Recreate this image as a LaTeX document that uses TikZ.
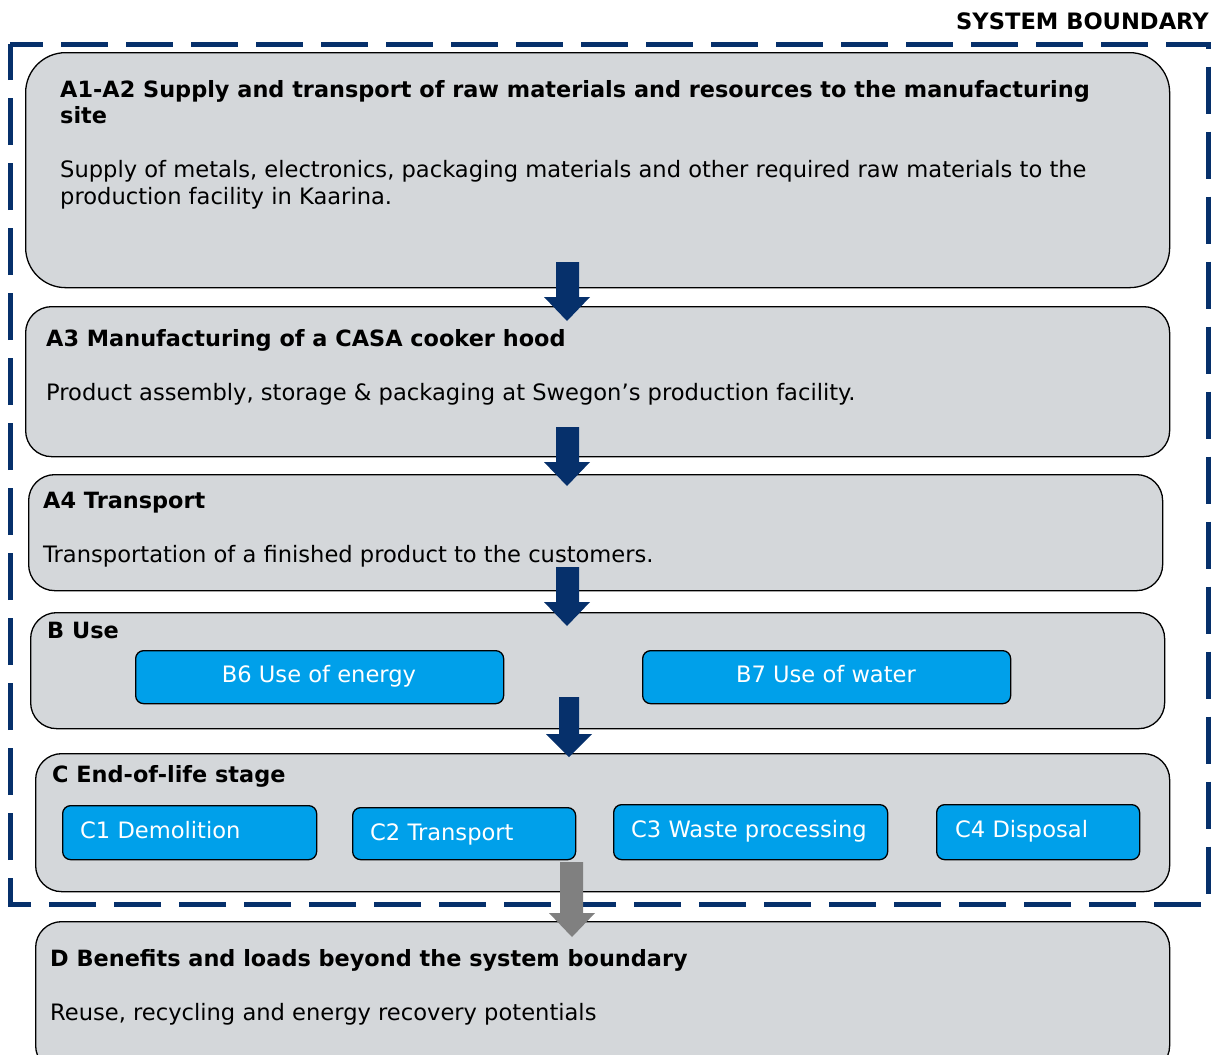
\documentclass[tikz,border=0pt]{standalone}
\usepackage{fontspec}
\setmainfont{DejaVu Sans}
\definecolor{boxgray}{HTML}{D4D7DA}
\definecolor{navy}{HTML}{06306B}
\definecolor{skyblue}{HTML}{00A0EA}
\definecolor{arrowgray}{HTML}{808080}
\tikzset{
  stage/.style={draw=black, line width=1.3pt, fill=boxgray, rounded corners=26pt, anchor=north west, inner sep=0pt},
  sub/.style={draw=black, line width=1.3pt, fill=skyblue, rounded corners=8pt, anchor=north west, inner sep=0pt},
  title/.style={anchor=base west, inner sep=0pt, font=\fontsize{22.4}{27}\selectfont\bfseries},
  body/.style={anchor=base west, inner sep=0pt, font=\fontsize{22.6}{27}\selectfont},
  subtext/.style={anchor=base west, inner sep=0pt, text=white, font=\fontsize{22.6}{27}\selectfont},
  subtextc/.style={anchor=base, inner sep=0pt, text=white, font=\fontsize{22.6}{27}\selectfont},
  boundary/.style={draw=navy, line width=5pt, dash pattern=on 47pt off 18pt, dash phase=14pt},
}
\begin{document}
\begin{tikzpicture}[x=1pt,y=-1pt]
\useasboundingbox (0,0) rectangle (1211,1055);
% system boundary
\draw[boundary] (10,44) -- (1208.5,44) -- (1208.5,904) -- (10,904) -- cycle;
\node[anchor=base east, inner sep=0pt, font=\fontsize{22.6}{24}\selectfont\bfseries] (sb) at (1209,29) {SYSTEM BOUNDARY};

% stage boxes
\node[stage, rounded corners=40pt, minimum width=1144pt, minimum height=235pt] (a1) at (25,52) {};
\node[stage, minimum width=1144pt, minimum height=150pt] (a3) at (25,306) {};
\node[stage, minimum width=1134pt, minimum height=116pt] (a4) at (28,474) {};
\node[stage, minimum width=1134pt, minimum height=116pt] (b) at (30,612) {};
\node[stage, minimum width=1134pt, minimum height=138pt] (c) at (35,753) {};
\node[stage, minimum width=1134pt, minimum height=150pt] (d) at (35,921) {};

% texts
\node[title] (a1t) at (60,97) {A1-A2 Supply and transport of raw materials and resources to the manufacturing};
\node[title] (a1t2) at (60,123) {site};
\node[body] (a1b) at (60,177) {Supply of metals, electronics, packaging materials and other required raw materials to the};
\node[body] (a1b2) at (60,204) {production facility in Kaarina.};
\node[title] (a3t) at (46,346) {A3 Manufacturing of a CASA cooker hood};
\node[body] (a3b) at (46,400) {Product assembly, storage \& packaging at Swegon’s production facility.};
\node[title] (a4t) at (43,508) {A4 Transport};
\node[body] (a4b) at (43,562) {Transportation of a finished product to the customers.};
\node[title] (bt) at (47,638) {B Use};
\node[title] (ct) at (52,782) {C End-of-life stage};
\node[title] (dt) at (50,966) {D Benefits and loads beyond the system boundary};
\node[body] (db) at (50,1020) {Reuse, recycling and energy recovery potentials};

% sub boxes
\node[sub, minimum width=368pt, minimum height=53pt] (b6) at (135,650) {};
\node[subtextc] (b6t) at (319,682) {B6 Use of energy};
\node[sub, minimum width=368pt, minimum height=53pt] (b7) at (642,650) {};
\node[subtextc] (b7t) at (826,682) {B7 Use of water};
\node[sub, minimum width=254pt, minimum height=54pt] (c1) at (62,805) {};
\node[subtext] (c1t) at (80,838) {C1 Demolition};
\node[sub, minimum width=223pt, minimum height=52pt] (c2) at (352,807) {};
\node[subtext] (c2t) at (370,840) {C2 Transport};
\node[sub, minimum width=274pt, minimum height=55pt] (c3) at (613,804) {};
\node[subtext] (c3t) at (631,837) {C3 Waste processing};
\node[sub, minimum width=203pt, minimum height=55pt] (c4) at (936,804) {};
\node[subtext] (c4t) at (955,837) {C4 Disposal};

% block arrows
\fill[navy] (556,262) -- (579,262) -- (579,297) -- (590,297) -- (567,321) -- (544,297) -- (556,297) -- cycle;
\fill[navy] (556,427) -- (579,427) -- (579,462) -- (590,462) -- (567,486) -- (544,462) -- (556,462) -- cycle;
\fill[navy] (556,567) -- (579,567) -- (579,602) -- (590,602) -- (567,626) -- (544,602) -- (556,602) -- cycle;
\fill[navy] (559,697) -- (579,697) -- (579,734) -- (592,734) -- (569,757) -- (546,734) -- (559,734) -- cycle;
\fill[arrowgray] (560,862) -- (583,862) -- (583,913) -- (595,913) -- (572,937) -- (549,913) -- (560,913) -- cycle;
\end{tikzpicture}
\end{document}
